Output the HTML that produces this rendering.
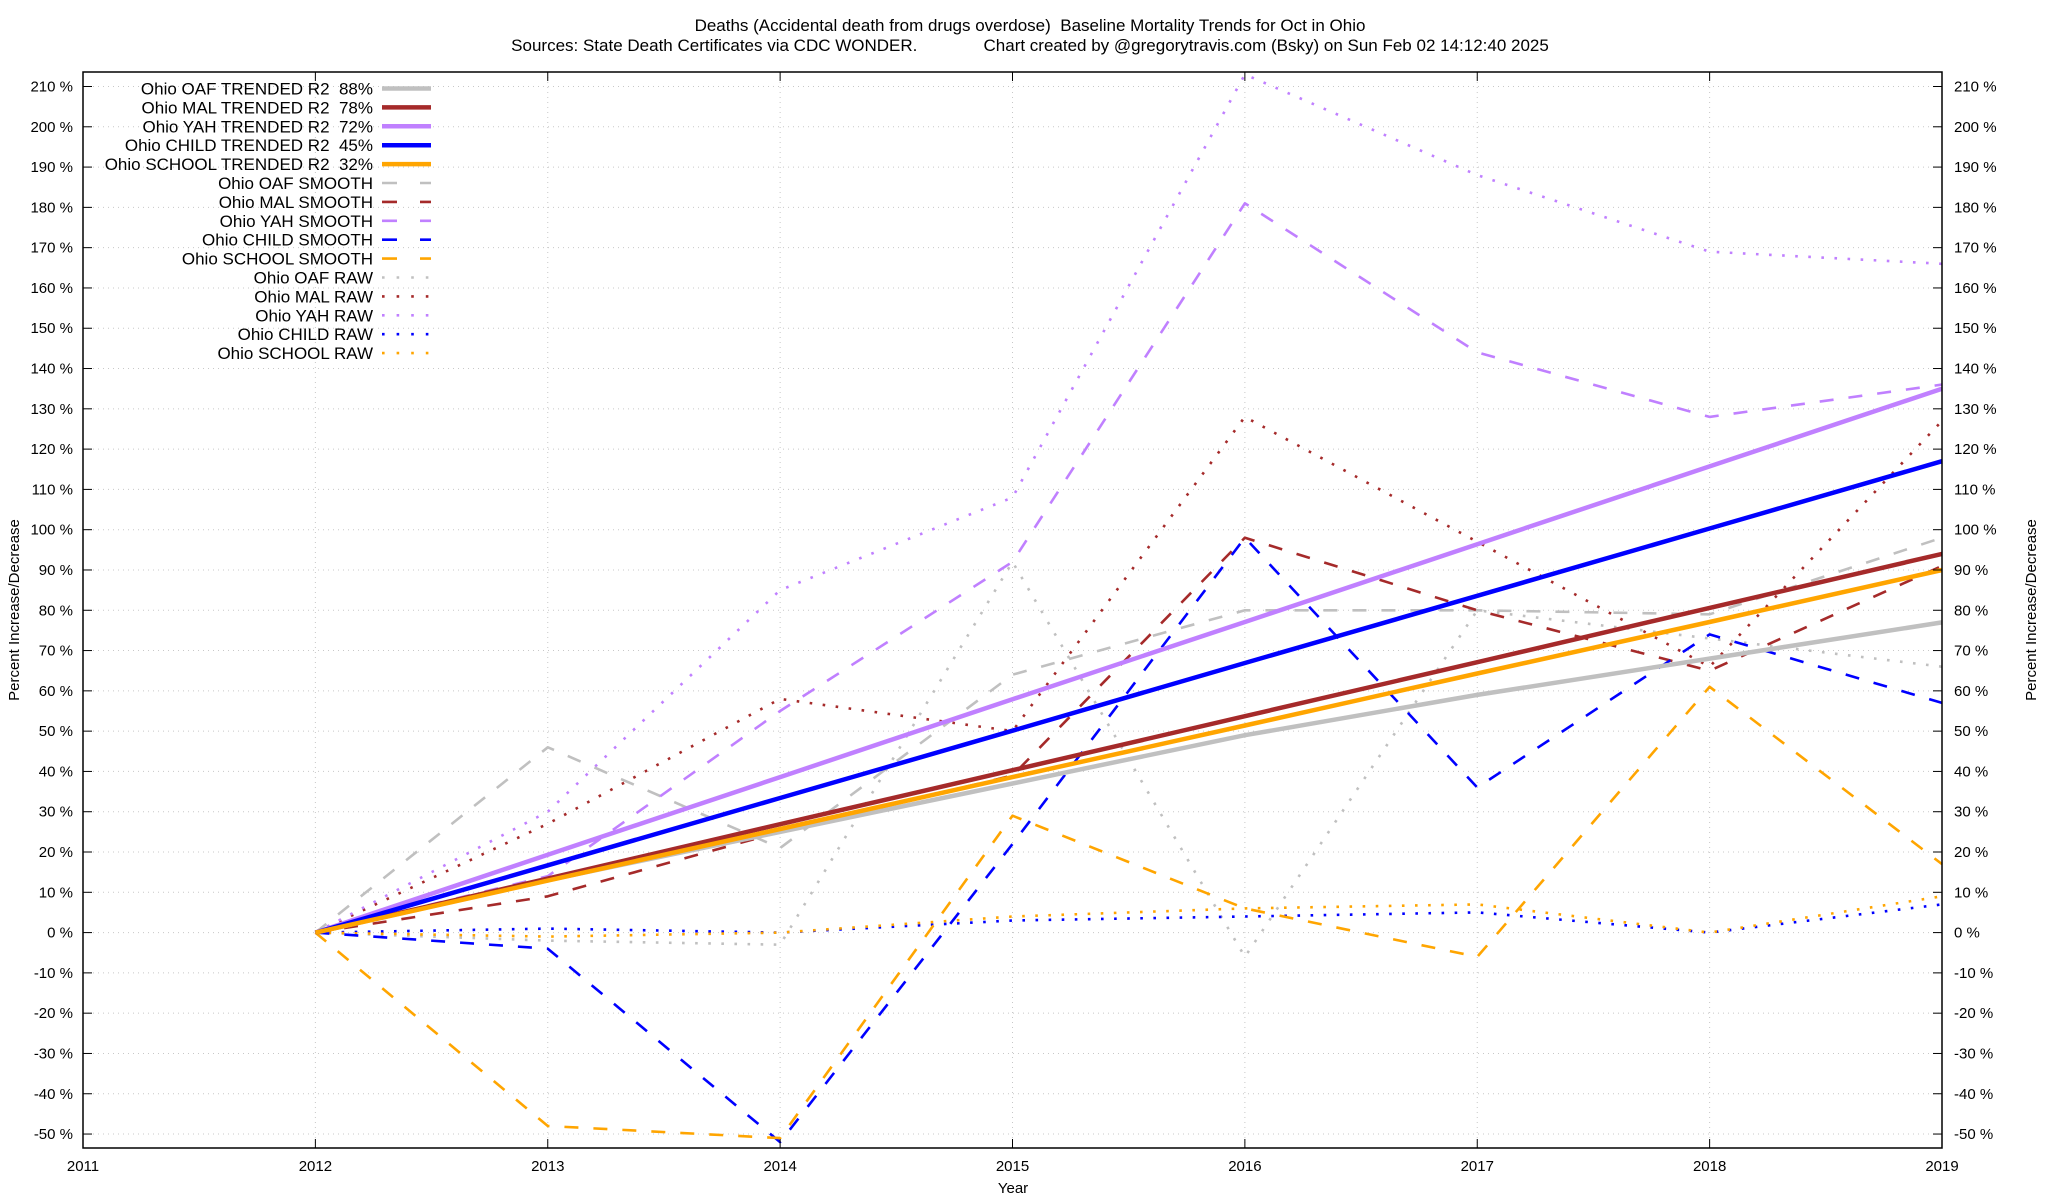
<!DOCTYPE html>
<html><head><meta charset="utf-8"><style>
html,body{margin:0;padding:0;background:#fff;}
svg{display:block;font-family:"Liberation Sans",Arial,sans-serif;}
text{white-space:pre;}
</style></head><body>
<svg id="chart" width="2048" height="1200" viewBox="0 0 2048 1200" xmlns="http://www.w3.org/2000/svg">
<text x="1030" y="31" font-size="17" text-anchor="middle" xml:space="preserve">Deaths (Accidental death from drugs overdose)  Baseline Mortality Trends for Oct in Ohio</text>
<text x="1030" y="51" font-size="17" text-anchor="middle" xml:space="preserve">Sources: State Death Certificates via CDC WONDER.              Chart created by @gregorytravis.com (Bsky) on Sun Feb 02 14:12:40 2025</text>
<g id="grid"></g>
<g id="series"></g>
<g id="axes"></g>
<g id="legend"></g>
<text x="1013" y="1193" font-size="15" text-anchor="middle">Year</text>
<text transform="translate(19,610) rotate(-90)" font-size="15" text-anchor="middle">Percent Increase/Decrease</text>
<text transform="translate(2036,610) rotate(-90)" font-size="15" text-anchor="middle">Percent Increase/Decrease</text>
</svg>
<script>
const years = [2012,2013,2014,2015,2016,2017,2018,2019];
const xTicks = [2011,2012,2013,2014,2015,2016,2017,2018,2019];
const yTicks = [-50,-40,-30,-20,-10,0,10,20,30,40,50,60,70,80,90,100,110,120,130,140,150,160,170,180,190,200,210];
const oafTrend = [0,13,25,37,49,59,68,77];
const malTrend = [0,13.4,26.9,40.3,53.7,67.1,80.6,94];
const yahTrend = [0,19.3,38.6,57.9,77.1,96.4,115.7,135];
const childTrend = [0,16.7,33.4,50.1,66.9,83.6,100.3,117];
const schoolTrend = [0,12.9,25.7,38.6,51.4,64.3,77.1,90];
const oafSmooth = [0,46,21,64,80,80,79,98];
const malSmooth = [0,9,25,39,98,80,65,91];
const yahSmooth = [0,14,55,92,181,144,128,136];
const childSmooth = [0,-4,-52,22,98,36,74,57];
const schoolSmooth = [0,-48,-51,29,6,-6,61,17];
const oafRaw = [0,-2,-3,92,-6,80,73,66];
const malRaw = [0,27,58,50,128,97,66,127];
const yahRaw = [0,30,85,108,213,188,169,166];
const childRaw = [0,1,0,3,4,5,0,7];
const schoolRaw = [0,-1,0,4,6,7,0,9];

const L=83,R=1942,T=72,B=1148;
function xS(y){return L+(y-2011)*(R-L)/8;}
function yS(v){return 86.5+(210-v)*4.029;}
const NS="http://www.w3.org/2000/svg";
function mk(tag,attrs,parent){const e=document.createElementNS(NS,tag);for(const k in attrs)e.setAttribute(k,attrs[k]);parent.appendChild(e);return e;}
const grid=document.getElementById('grid'),axes=document.getElementById('axes'),ser=document.getElementById('series'),leg=document.getElementById('legend');

yTicks.forEach(v=>{
  const y=yS(v);
  const g=mk('line',{x1:L,x2:R,y1:y,y2:y,stroke:'#c8c8c8','stroke-width':1,'stroke-dasharray':'1,4'},grid);
  
  
  const t1=mk('line',{x1:L,x2:L+9,y1:y,y2:y,stroke:'#000'},axes);
  
  
  const t2=mk('line',{x1:R-9,x2:R,y1:y,y2:y,stroke:'#000'},axes);
  
  
  const a=mk('text',{x:L-10,y:y+5,'font-size':15,'text-anchor':'end'},axes);a.textContent=v+' %';
  
  
  const b=mk('text',{x:R+12,y:y+5,'font-size':15},axes);b.textContent=v+' %';
  
  
});
xTicks.forEach(yr=>{
  const x=xS(yr);
  const g=mk('line',{x1:x,x2:x,y1:T,y2:B,stroke:'#c8c8c8','stroke-width':1,'stroke-dasharray':'1,4'},grid);
  
  
  const t1=mk('line',{x1:x,x2:x,y1:B,y2:B-9,stroke:'#000'},axes);
  
  
  const t2=mk('line',{x1:x,x2:x,y1:T,y2:T+9,stroke:'#000'},axes);
  
  
  const a=mk('text',{x:x,y:B+23,'font-size':15,'text-anchor':'middle'},axes);a.textContent=yr;
  
  
});
const fr=mk('rect',{x:L,y:T,width:R-L,height:B-T,fill:'none',stroke:'#000','stroke-width':1.5},axes);



const C={oaf:'#c0c0c0',mal:'#a52a2a',yah:'#c080ff',child:'#0000ff',school:'#ffa500'};
const series=[
 ['Ohio OAF TRENDED R2  88%',oafTrend,C.oaf,'trend','oaf-trend-line'],
 ['Ohio MAL TRENDED R2  78%',malTrend,C.mal,'trend','mal-trend-line'],
 ['Ohio YAH TRENDED R2  72%',yahTrend,C.yah,'trend','yah-trend-line'],
 ['Ohio CHILD TRENDED R2  45%',childTrend,C.child,'trend','child-trend-line'],
 ['Ohio SCHOOL TRENDED R2  32%',schoolTrend,C.school,'trend','school-trend-line'],
 ['Ohio OAF SMOOTH',oafSmooth,C.oaf,'smooth','oaf-smooth-line'],
 ['Ohio MAL SMOOTH',malSmooth,C.mal,'smooth','mal-smooth-line'],
 ['Ohio YAH SMOOTH',yahSmooth,C.yah,'smooth','yah-smooth-line'],
 ['Ohio CHILD SMOOTH',childSmooth,C.child,'smooth','child-smooth-line'],
 ['Ohio SCHOOL SMOOTH',schoolSmooth,C.school,'smooth','school-smooth-line'],
 ['Ohio OAF RAW',oafRaw,C.oaf,'raw','oaf-raw-line'],
 ['Ohio MAL RAW',malRaw,C.mal,'raw','mal-raw-line'],
 ['Ohio YAH RAW',yahRaw,C.yah,'raw','yah-raw-line'],
 ['Ohio CHILD RAW',childRaw,C.child,'raw','child-raw-line'],
 ['Ohio SCHOOL RAW',schoolRaw,C.school,'raw','school-raw-line']
];
function style(kind){
  if(kind==='trend')return {'stroke-width':4.5};
  if(kind==='smooth')return {'stroke-width':2.6,'stroke-dasharray':'14,15'};
  return {'stroke-width':2.6,'stroke-dasharray':'2.6,10.5','stroke-linecap':'butt'};
}
const order=[10,11,12,13,14,5,6,7,8,9,0,1,2,3,4];
order.forEach(i=>{
  const [name,vals,col,kind,dn]=series[i];
  const pts=vals.map((v,j)=>xS(years[j]).toFixed(1)+','+yS(v).toFixed(1)).join(' ');
  const p=mk('polyline',Object.assign({points:pts,fill:'none',stroke:col,'stroke-linejoin':'round'},style(kind)),ser);
  
  
});
series.forEach((s,i)=>{
  const [name,vals,col,kind,dn]=s;
  const y=88.5+i*18.9;
  const t=mk('text',{x:373,y:y+6,'font-size':17,'text-anchor':'end'},leg);
  t.setAttributeNS('http://www.w3.org/XML/1998/namespace','xml:space','preserve');
  t.textContent=name;
  
  
  const st=style(kind);
  if(kind==='smooth')st['stroke-dasharray']='15,23';
  if(kind==='raw')st['stroke-dasharray']='2.6,12';
  const l=mk('line',Object.assign({x1:382,x2:431,y1:y,y2:y,stroke:col},st),leg);
  
  
});
</script>
</body></html>
